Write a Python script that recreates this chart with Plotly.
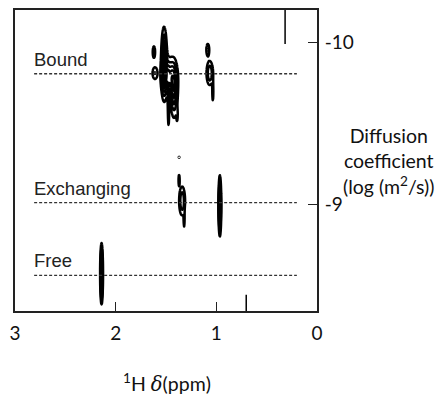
import numpy as np
import plotly.graph_objects as go

# Peaks: chemical shift (ppm), log diffusion, widths, intensity
peak_ppm   = [1.519, 1.47, 1.42, 1.61, 1.62, 1.39, 1.475, 1.065, 1.085, 1.035, 1.34, 1.37, 1.37, 1.32, 0.965, 2.14]
peak_logd  = [-9.87, -9.79, -9.70, -9.81, -9.94, -9.55, -9.62, -9.81, -9.955, -9.69, -9.02, -9.15, -9.29, -8.90, -8.99, -8.57]
peak_sppm  = [0.016, 0.045, 0.022, 0.02, 0.01, 0.005, 0.006, 0.022, 0.012, 0.005, 0.02, 0.005, 0.004, 0.004, 0.007, 0.007]
peak_slogd = [0.12, 0.07, 0.10, 0.03, 0.03, 0.03, 0.12, 0.05, 0.03, 0.05, 0.06, 0.03, 0.006, 0.04, 0.093, 0.093]
peak_amp   = [6, 4, 4, 2, 2, 1.5, 1.8, 3, 2, 1.6, 3, 1.7, 1.3, 1.5, 8, 8]

# Reference lines
level_names = ["Bound", "Exchanging", "Free"]
level_logd = [-9.806, -9.01, -8.56]
line_ppm = [2.81, 0.20]

# Artifact streaks
streak_ppm = [0.317, 0.703]
streak_logd = [[-10.2, -9.99], [-8.44, -8.34]]

x_ticks = [3, 2, 1, 0]
y_ticks = [-10, -9]
y_range = [-8.34, -10.2]

ppm = np.round(np.arange(0, 3.0001, 0.004), 4)
logd = np.round(np.arange(-10.2, -8.339, 0.005), 4)
X, Y = np.meshgrid(ppm, logd)
Z = np.zeros_like(X)
for p, d, sp, sd, a in zip(peak_ppm, peak_logd, peak_sppm, peak_slogd, peak_amp):
    Z += a * np.exp(-0.5 * (((X - p) / sp) ** 2 + ((Y - d) / sd) ** 2))
Z = np.round(Z, 3)

fig = go.Figure()
fig.add_trace(go.Contour(
    x=ppm, y=logd, z=Z,
    contours=dict(start=1, end=20, size=1, coloring="lines"),
    colorscale=[[0, "black"], [1, "black"]],
    line=dict(width=2.5),
    showscale=False, hoverinfo="skip",
))

for name, d in zip(level_names, level_logd):
    fig.add_trace(go.Scatter(x=line_ppm, y=[d, d], mode="lines",
                             line=dict(color="#333", width=1.4, dash="3px,2px"),
                             showlegend=False, hoverinfo="skip"))
    fig.add_annotation(x=line_ppm[0], y=d, text=name, showarrow=False,
                       xanchor="left", yanchor="bottom", yshift=2, xshift=-2,
                       font=dict(family="Liberation Sans, Arial", size=18.5, color="#222"))

for p, seg in zip(streak_ppm, streak_logd):
    fig.add_trace(go.Scatter(x=[p, p], y=seg, mode="lines",
                             line=dict(color="black", width=1.5),
                             showlegend=False, hoverinfo="skip"))

fig.add_annotation(xref="paper", yref="paper", x=1.0, y=0.5, xanchor="center", yanchor="middle",
                   xshift=71, align="center", showarrow=False,
                   text="Diffusion<br>coefficient<br>(log (m<sup>2</sup>/s))",
                   font=dict(family="Lato", size=19.5, color="#111"))
fig.add_annotation(xref="paper", yref="paper", x=0.502, y=0, xanchor="center", yanchor="top", yshift=-57,
                   showarrow=False,
                   text="<sup>1</sup>H <span style=\"font-family:'DejaVu Serif'\"><i>δ</i></span>(ppm)",
                   font=dict(family="Lato", size=19.5, color="#111"))

fig.update_layout(
    width=438, height=398, margin=dict(l=15, r=121, t=8, b=87),
    plot_bgcolor="white", paper_bgcolor="white", showlegend=False,
    xaxis=dict(range=[3, 0], tickvals=x_ticks, ticktext=[str(v) for v in x_ticks],
               ticks="inside", ticklen=9, tickwidth=1.2, tickcolor="#222",
               showline=True, linecolor="#222", linewidth=1.8, mirror=True,
               showgrid=False, zeroline=False, ticklabelstandoff=4,
               tickfont=dict(family="Lato", size=19, color="#111")),
    yaxis=dict(range=y_range, side="right", tickvals=y_ticks, ticktext=["-10", "-9"],
               ticks="inside", ticklen=9, tickwidth=1.2, tickcolor="#222",
               showline=True, linecolor="#222", linewidth=1.8, mirror=True,
               showgrid=False, zeroline=False, ticklabelstandoff=2,
               tickfont=dict(family="Lato", size=19, color="#111")),
)
fig.write_html("out.html")
